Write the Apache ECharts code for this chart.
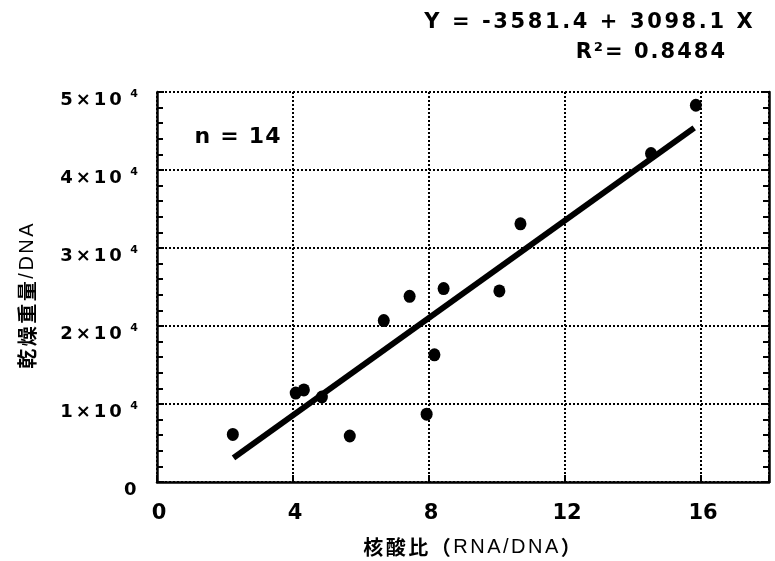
<!DOCTYPE html>
<html>
<head>
<meta charset="utf-8">
<script src="https://cdn.jsdelivr.net/npm/echarts@6/dist/echarts.min.js"></script>
<style>
html,body{margin:0;padding:0;background:#fff;}
#c{width:775px;height:561px;}
</style>
</head>
<body>
<div id="c"></div>
<script>
// ---- data ----
const rnaDna = [2.23, 4.08, 4.32, 4.85, 5.67, 6.67, 7.43, 7.93, 8.16, 8.43, 10.07, 10.69, 14.53, 15.85];
const dryWeight = [6100, 11400, 11800, 10900, 5900, 20700, 23800, 8700, 16300, 24800, 24500, 33100, 42100, 48300];
const fitX = [2.25, 15.8];
const fitY = [3100, 45400];
const xTickValues = [0, 4, 8, 12, 16];
const xTickLabels = ['0', '4', '8', '12', '16'];
const yTickValues = [0, 10000, 20000, 30000, 40000, 50000];
const yTickLabels = ['0', '1×10⁴', '2×10⁴', '3×10⁴', '4×10⁴', '5×10⁴'];
const eqText = 'Y = -3581.4 + 3098.1 X';
const r2Text = 'R²= 0.8484';
const nText = 'n = 14';
const xName = '核酸比（RNA/DNA）';
const yName = '乾燥重量/DNA';

// ---- helpers ----
function spaced(str, keyFn) {
  return str.split('').map(ch => '{' + keyFn(ch) + '|' + ch + '}').join('');
}
const isCJK = ch => /[\u3000-\u9fff\uff00-\uffef]/.test(ch);

const chart = echarts.init(document.getElementById('c'), null, {renderer: 'canvas'});

const latinBold = (size, pad) => ({fontFamily: 'DejaVu Sans', fontWeight: 'bold', fontSize: size, fill: '#000', color: '#000', padding: [0, pad]});

const option = {
  animation: false,
  backgroundColor: '#fff',
  grid: {left: 157, right: 6, top: 92, bottom: 79, containLabel: false},
  xAxis: [{
    type: 'value', min: 0, max: 18, interval: 4, position: 'bottom',
    axisLine: {show: true, onZero: false, lineStyle: {color: '#000', width: 2.5}},
    axisTick: {show: true, inside: true, length: 7, lineStyle: {color: '#000', width: 2}},
    axisLabel: {
      margin: 21, color: '#000', fontFamily: 'DejaVu Sans', fontWeight: 'bold', fontSize: 21,
      padding: [0, 0, 0, 4],
      formatter: v => { const i = xTickValues.indexOf(v); return i >= 0 ? xTickLabels[i] : ''; }
    },
    splitLine: {show: true, lineStyle: {color: '#000', width: 2, type: [2, 2]}}
  }],
  yAxis: [{
    type: 'value', min: 0, max: 50000, interval: 10000, position: 'left',
    axisLine: {show: true, onZero: false, lineStyle: {color: '#000', width: 2.5}},
    axisTick: {show: true, inside: true, length: 7, lineStyle: {color: '#000', width: 2}},
    minorTick: {show: true, splitNumber: 5, length: 6, lineStyle: {color: '#000', width: 2}},
    axisLabel: {
      margin: 19, padding: [17, 0, 0, 0],
      formatter: v => {
        const i = yTickValues.indexOf(v);
        if (i < 0) return '';
        const lbl = yTickLabels[i];
        if (lbl.indexOf('⁴') < 0) return spaced(lbl, () => 'b');
        const base = lbl.replace('⁴', '');
        return spaced(base, () => 'b') + '{s|4}';
      },
      rich: {
        b: {fontFamily: 'DejaVu Sans', fontWeight: 'bold', fontSize: 18, lineHeight: 24, color: '#000', padding: [0, 1.5]},
        s: {fontFamily: 'DejaVu Sans', fontWeight: 'bold', fontSize: 11, lineHeight: 11, color: '#000', verticalAlign: 'top', padding: [0, 0, 0, 7]}
      }
    },
    splitLine: {show: true, lineStyle: {color: '#000', width: 2, type: [2, 2]}}
  }, {
    type: 'value', min: 0, max: 50000, interval: 10000, position: 'right',
    axisLine: {show: true, onZero: false, lineStyle: {color: '#000', width: 2.5}},
    axisTick: {show: true, inside: true, length: 7, lineStyle: {color: '#000', width: 2}},
    minorTick: {show: true, splitNumber: 5, length: 6, lineStyle: {color: '#000', width: 2}},
    axisLabel: {show: false},
    splitLine: {show: false}
  }],
  series: [{
    type: 'line',
    data: fitX.map((x, i) => [x, fitY[i]]),
    showSymbol: false, symbol: 'none',
    lineStyle: {color: '#000', width: 6, cap: 'butt'},
    z: 2, silent: true
  }, {
    type: 'scatter',
    data: rnaDna.map((x, i) => [x, dryWeight[i]]),
    symbol: 'circle', symbolSize: [12, 13],
    itemStyle: {color: '#000', opacity: 1},
    z: 3
  }],
  graphic: [{
    type: 'text', x: 754, y: 23,
    style: {
      text: spaced(eqText, () => 't'), align: 'right', verticalAlign: 'middle',
      textAlign: 'right', textVerticalAlign: 'middle',
      rich: {t: latinBold(21, 1.3)}
    }
  }, {
    type: 'text', x: 726, y: 53,
    style: {
      text: spaced(r2Text, () => 't'), align: 'right', verticalAlign: 'middle',
      textAlign: 'right', textVerticalAlign: 'middle',
      rich: {t: latinBold(21, 1.0)}
    }
  }, {
    type: 'text', x: 194, y: 137,
    style: {
      text: spaced(nText, () => 't'), align: 'left', verticalAlign: 'middle',
      textAlign: 'left', textVerticalAlign: 'middle',
      rich: {t: latinBold(22, 0.6)}
    }
  }, {
    type: 'text', x: 472, y: 547,
    style: {
      text: spaced(xName, ch => isCJK(ch) ? 'c' : 'l'), align: 'center', verticalAlign: 'middle',
      textAlign: 'center', textVerticalAlign: 'middle',
      rich: {
        c: {fontFamily: 'Noto Sans CJK JP', fontWeight: 'bold', fontSize: 20, fill: '#000', padding: [0, 1.25]},
        l: {fontFamily: 'Liberation Sans', fontWeight: 'normal', fontSize: 20, fill: '#000', padding: [0, 1.25]}
      }
    }
  }, {
    type: 'text', x: 27.5, y: 296, rotation: Math.PI / 2,
    style: {
      text: spaced(yName, ch => isCJK(ch) ? 'c' : 'l'), align: 'center', verticalAlign: 'middle',
      textAlign: 'center', textVerticalAlign: 'middle',
      rich: {
        c: {fontFamily: 'Noto Sans CJK JP', fontWeight: 'bold', fontSize: 20, fill: '#000', padding: [0, 1.25]},
        l: {fontFamily: 'Liberation Sans', fontWeight: 'normal', fontSize: 20, fill: '#000', padding: [0, 1.25]}
      }
    }
  }]
};
chart.setOption(option);
</script>
</body>
</html>
